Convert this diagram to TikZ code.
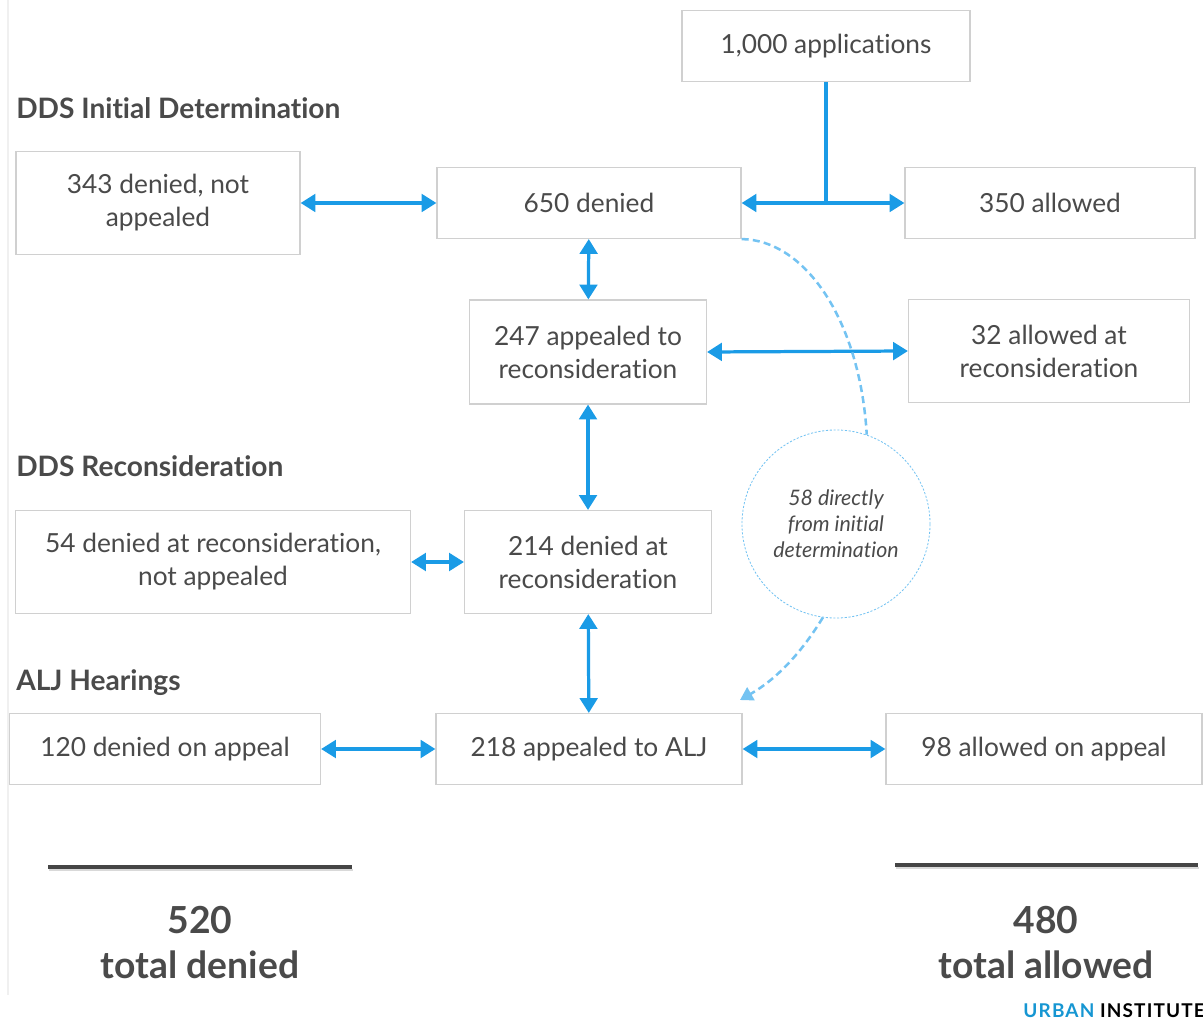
\documentclass[tikz,border=0pt]{standalone}
\usepackage{fontspec}
\setmainfont{Lato}[Ligatures=NoCommon]
\usetikzlibrary{arrows.meta,calc,positioning,shapes.geometric}

\definecolor{txtgray}{HTML}{4A4A4A}
\definecolor{boxgray}{HTML}{D0D0D0}
\definecolor{flowblue}{HTML}{1A9BE6}
\definecolor{dashblue}{HTML}{74C3F2}
\definecolor{urbanblue}{HTML}{1696D2}
\definecolor{rulegray}{HTML}{454545}

\tikzset{
  stage/.style={draw=boxgray, line width=0.8pt, fill=white, text=txtgray, align=center,
    inner sep=0pt, font=\fontsize{18.7}{23.5}\selectfont},
  sz/.style 2 args={minimum width=#1, minimum height=#2},
  flow/.style={flowblue, line width=2.3pt,
    {Triangle[length=10.5pt,width=12.5pt]}-{Triangle[length=10.5pt,width=12.5pt]}},
  flowone/.style={flowblue, line width=2.3pt, -{Triangle[length=10.5pt,width=12.5pt]}},
  stagehead/.style={anchor=west, text=txtgray, inner sep=0pt, font=\fontsize{20}{24}\bfseries},
  direct/.style={dashblue, line width=1.8pt, dash pattern=on 5pt off 3pt},
  total/.style={text=txtgray, align=center, inner sep=0pt, font=\fontsize{26.5}{32}\bfseries},
}

\begin{document}
\begin{tikzpicture}[x=0.025cm, y=-0.025cm]
\useasboundingbox (0,0) rectangle (1203,1023);
\draw[gray!12, line width=1.2pt] (8,0) -- (8,995);

% stage headings
\node[stagehead] (hInit) at (16,108) {DDS Initial Determination};
\node[stagehead] (hRecon) at (16,466) {DDS Reconsideration};
\node[stagehead] (hAlj) at (16,683) {ALJ Hearings};

% boxes
\node[stage, sz={7.2cm}{1.775cm}] (apps) at (826,46) {1,000 applications};
\node[stage, sz={7.1cm}{2.575cm}] (notapp) at (158,203) {343 denied, not\\appealed};
\node[stage, sz={7.6cm}{1.775cm}] (denied) at (589,203) {650 denied};
\node[stage, sz={7.25cm}{1.775cm}] (allowed) at (1050,203) {350 allowed};
\node[stage, sz={5.925cm}{2.6cm}] (recon) at (588,352) {247 appealed to\\reconsideration};
\node[stage, sz={7.025cm}{2.575cm}] (reconok) at (1049,351) {32 allowed at\\reconsideration};
\node[stage, sz={9.875cm}{2.575cm}] (reconstop) at (213,562) {54 denied at reconsideration,\\not appealed};
\node[stage, sz={6.175cm}{2.575cm}] (recondeny) at (588,562) {214 denied at\\reconsideration};
\node[stage, sz={7.775cm}{1.775cm}] (aljdeny) at (165,749) {120 denied on appeal};
\node[stage, sz={7.65cm}{1.775cm}] (alj) at (589,749) {218 appealed to ALJ};
\node[stage, sz={7.9cm}{1.775cm}] (aljok) at (1044,749) {98 allowed on appeal};

% the direct route
\node[circle, draw=dashblue, line width=0.6pt, dash pattern=on 1.5pt off 1.2pt,
  minimum size=4.7cm, inner sep=0pt, align=center, text=txtgray,
  font=\fontsize{15.2}{18.5}\itshape] (direct) at (836,524)
  {58 directly\\from initial\\determination};

% connectors
\coordinate (split) at (apps.south |- denied.east);
\draw[flowblue, line width=2.3pt] (apps.south) -- (split);
\draw[flowone] (split) -- (denied.east);
\draw[flowone] (split) -- (allowed.west);
\draw[flow] (notapp) -- (denied);
\draw[flow] (denied) -- (recon);
\draw[flow] (recon.east) -- (reconok.west);
\draw[flow] (recon) -- (recondeny);
\draw[flow] (reconstop) -- (recondeny);
\draw[flow] (recondeny) -- (alj);
\draw[flow] (aljdeny) -- (alj);
\draw[flow] (alj) -- (aljok);

\draw[direct] (denied.south east) .. controls (805,240) and (860,320) .. (direct.71);
\draw[direct, -{Triangle[length=9pt,width=10.5pt]}] (direct.262)
  .. controls (800,655) and (775,680) .. (740,700);

% totals
\draw[gray!30, line width=1.5pt] (49,870) -- (353,870);
\draw[rulegray, line width=2.8pt] (48,867) -- (352,867);
\draw[gray!30, line width=1.5pt] (896,868) -- (1199,868);
\draw[rulegray, line width=2.8pt] (895,865) -- (1198,865);
\node[total] (sumDenied) at (200,943) {520\\total denied};
\node[total] (sumAllowed) at (1046,943) {480\\total allowed};

\node[anchor=east, inner sep=0pt, font=\fontsize{13.5}{15}\bfseries\addfontfeatures{LetterSpace=6}]
  (brand) at (1205,1011) {\textcolor{urbanblue}{URBAN} INSTITUTE};
\end{tikzpicture}
\end{document}
